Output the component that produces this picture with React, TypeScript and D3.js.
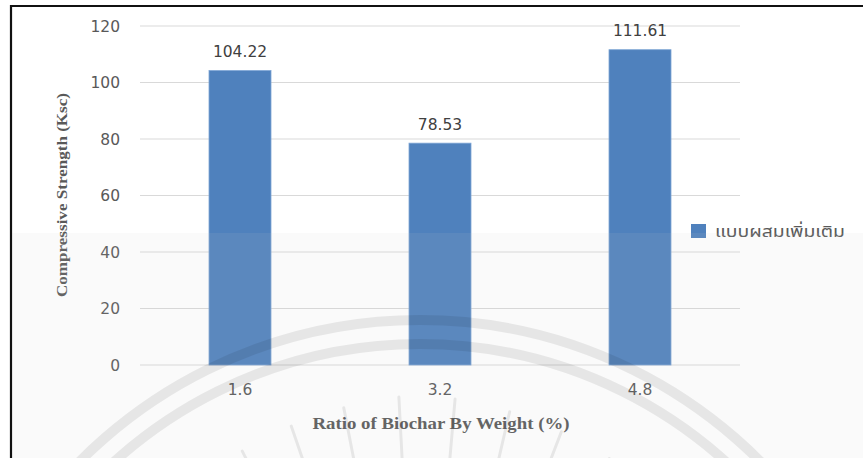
import React from "react";
import * as d3 from "d3";

// Compressive strength by biochar ratio
const categories: string[] = ["1.6", "3.2", "4.8"];
const strengthValues: number[] = [104.22, 78.53, 111.61];
const yTicks: number[] = [0, 20, 40, 60, 80, 100, 120];
const seriesName = "แบบผสมเพิ่มเติม";
const xTitle = "Ratio of Biochar By Weight (%)";
const yTitle = "Compressive Strength (Ksc)";

const W = 863;
const H = 458;
const BAR = "#4F81BD";

export default function App() {
  const x = d3
    .scaleBand<string>()
    .domain(categories)
    .range([140, 740])
    .paddingInner(0.69)
    .paddingOuter(0.345);
  const y = d3.scaleLinear().domain([0, 120]).range([365, 26]);

  // background seal: two concentric rings and a fan of rays
  const ringArc = (r: number) =>
    d3.arc()({
      innerRadius: r,
      outerRadius: r,
      startAngle: -Math.PI / 1.6,
      endAngle: Math.PI / 1.6,
    }) as string;
  const rayAngles = d3.range(-75, 76, 8);

  return (
    <svg
      width={W}
      height={H}
      style={{ position: "fixed", left: 0, top: 0, background: "#fff" }}
    >
      {/* frame */}
      <line x1={10} y1={6} x2={W} y2={6} stroke="#111" strokeWidth={2} />
      <line x1={11} y1={5} x2={11} y2={H} stroke="#111" strokeWidth={2.2} />

      {/* gridlines */}
      {yTicks.map((t) => (
        <line
          key={t}
          x1={140}
          x2={740}
          y1={y(t)}
          y2={y(t)}
          stroke="#d9d9d9"
          strokeWidth={1}
        />
      ))}

      {/* y tick labels */}
      {yTicks.map((t) => (
        <text
          key={"t" + t}
          x={120}
          y={y(t) + 5.5}
          textAnchor="end"
          fontFamily="DejaVu Sans, sans-serif"
          fontSize={15.5}
          fill="#595959"
        >
          {t}
        </text>
      ))}

      {/* bars */}
      {categories.map((c, i) => (
        <rect
          key={c}
          x={x(c)}
          y={y(strengthValues[i])}
          width={x.bandwidth()}
          height={y(0) - y(strengthValues[i])}
          fill={BAR}
          stroke="#7ea5d5"
          strokeWidth={0.8}
        />
      ))}

      {/* value labels */}
      {categories.map((c, i) => (
        <text
          key={"v" + c}
          x={(x(c) as number) + x.bandwidth() / 2}
          y={y(strengthValues[i]) - 13.5}
          textAnchor="middle"
          fontFamily="DejaVu Sans, sans-serif"
          fontSize={15.5}
          fill="#404040"
        >
          {strengthValues[i].toFixed(2)}
        </text>
      ))}

      {/* x tick labels */}
      {categories.map((c) => (
        <text
          key={"x" + c}
          x={(x(c) as number) + x.bandwidth() / 2}
          y={395}
          textAnchor="middle"
          fontFamily="DejaVu Sans, sans-serif"
          fontSize={15.5}
          fill="#595959"
        >
          {c}
        </text>
      ))}

      {/* axis titles */}
      <text
        x={441}
        y={429}
        textAnchor="middle"
        fontFamily="Liberation Serif, serif"
        fontWeight="bold"
        fontSize={17}
        fill="#595959"
        textLength={257}
        lengthAdjust="spacingAndGlyphs"
      >
        {xTitle}
      </text>
      <text
        transform="translate(67,195) rotate(-90)"
        textAnchor="middle"
        fontFamily="Liberation Serif, serif"
        fontWeight="bold"
        fontSize={15}
        fill="#595959"
        textLength={204}
        lengthAdjust="spacingAndGlyphs"
      >
        {yTitle}
      </text>

      {/* legend */}
      <rect x={691} y={224} width={15} height={14} fill={BAR} />
      <text
        x={715}
        y={237}
        fontFamily="Noto Sans Thai, Tahoma, Loma, Garuda, DejaVu Sans, sans-serif"
        fontSize={16.5}
        fill="#595959"
        textLength={130}
        lengthAdjust="spacingAndGlyphs"
      >
        {seriesName}
      </text>

      {/* lower wash */}
      <rect x={12} y={233} width={W - 12} height={H - 233} fill="#d0d0d0" opacity={0.1} />

      {/* seal */}
      <g transform="translate(420,800)" fill="none" stroke="#000" strokeOpacity={0.08}>
        <path d={ringArc(480)} strokeWidth={10} />
        <path d={ringArc(456)} strokeWidth={10} />
        {rayAngles.map((a) => {
          const rad = ((a - 90) * Math.PI) / 180;
          const r1 = 320;
          const r2 = 405 - Math.abs(a) * 0.5;
          return (
            <line
              key={a}
              x1={Math.cos(rad) * r1}
              y1={Math.sin(rad) * r1}
              x2={Math.cos(rad) * r2}
              y2={Math.sin(rad) * r2}
              strokeWidth={3}
              strokeLinecap="round"
            />
          );
        })}
      </g>
    </svg>
  );
}
